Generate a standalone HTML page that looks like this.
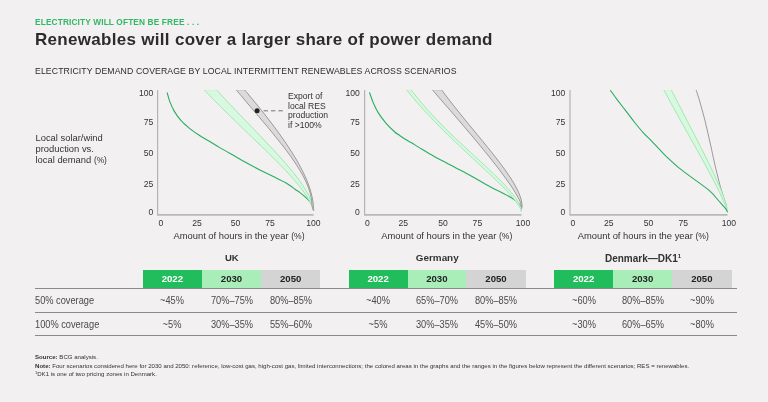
<!DOCTYPE html>
<html><head><meta charset="utf-8">
<style>
html,body{margin:0;padding:0;}
body{width:768px;height:402px;background:#f2f0f0;position:relative;overflow:hidden;font-family:"Liberation Sans",sans-serif;color:#333;}
#w{position:absolute;left:0;top:0;width:768px;height:402px;will-change:transform;}
.t{position:absolute;white-space:nowrap;line-height:1;}
.c{transform:translateX(-50%);}
.r{transform:translateX(-100%);}
#kicker{left:35px;top:17px;font-size:9.2px;font-weight:bold;color:#2fb866;letter-spacing:0.25px;}
#title{left:35px;top:30px;font-size:19.5px;font-weight:bold;color:#2c2c2c;letter-spacing:-0.1px;}
#sub{left:35px;top:66px;font-size:9.3px;color:#2c2c2c;}
.ax{font-size:9px;color:#333;}
.axt{font-size:9.2px;color:#333;}
.hd{position:absolute;top:269.5px;height:19px;}
.hdt{font-size:9.6px;font-weight:bold;}
.grp{font-size:10px;font-weight:bold;color:#333;}
.cell{font-size:9.6px;color:#4a4a4a;}
.ln{position:absolute;left:35px;width:702px;height:1px;background:#8a8a8a;}
.ft{font-size:5.6px;color:#333;}
</style></head><body><div id="w">
<svg style="position:absolute;left:0;top:0" width="768" height="402" viewBox="0 0 768 402">
<defs><clipPath id="cp"><rect x="0" y="90" width="768" height="123.9"/></clipPath></defs>
<g clip-path="url(#cp)" fill="none" stroke-linejoin="round" stroke-linecap="round">
<path d="M167.2,92.8 C167.6,94.3 168.6,98.5 169.8,101.6 C171.0,104.6 172.3,107.9 174.2,111.1 C176.1,114.3 178.5,117.8 181.1,120.7 C183.7,123.6 186.7,126.1 189.8,128.6 C193.0,131.1 196.8,133.7 200.0,135.8 C203.2,137.9 205.8,139.1 209.0,141.0 C212.2,142.9 215.7,145.2 219.4,147.4 C223.1,149.6 226.7,151.6 231.0,154.0 C235.3,156.4 240.2,159.4 245.0,162.1 C249.8,164.8 254.9,167.4 259.9,169.9 C264.9,172.4 270.7,175.2 274.9,177.3 C279.1,179.4 282.8,181.1 285.3,182.5 C287.8,183.9 288.4,184.4 290.0,185.5 C291.6,186.6 293.3,188.1 295.0,189.3 C296.7,190.5 298.4,191.4 300.0,192.6 C301.6,193.8 303.2,195.1 304.9,196.6 C306.5,198.1 308.7,200.2 309.9,201.6 C311.1,203.0 311.8,204.6 312.2,205.2" stroke="#27ae60" stroke-width="1.1"/>
<path d="M204.4,90.0 C205.0,90.7 206.9,92.7 208.2,94.0 C209.5,95.3 210.8,96.7 212.0,98.0 C213.3,99.3 214.7,100.7 216.0,102.0 C217.3,103.3 218.6,104.7 219.9,106.0 C221.3,107.3 222.6,108.7 224.0,110.0 C225.3,111.3 226.6,112.7 228.0,114.0 C229.4,115.3 230.7,116.7 232.1,118.0 C233.5,119.3 234.8,120.7 236.2,122.0 C237.6,123.3 239.0,124.7 240.4,126.0 C241.7,127.3 243.1,128.7 244.5,130.0 C245.9,131.3 247.3,132.7 248.7,134.0 C250.1,135.3 251.5,136.7 252.8,138.0 C254.2,139.3 255.6,140.7 257.0,142.0 C258.4,143.3 259.8,144.7 261.2,146.0 C262.5,147.3 263.9,148.7 265.3,150.0 C266.7,151.3 268.0,152.7 269.4,154.0 C270.7,155.3 272.1,156.7 273.4,158.0 C274.8,159.3 276.1,160.7 277.4,162.0 C278.7,163.3 280.1,164.7 281.3,166.0 C282.6,167.3 283.9,168.7 285.2,170.0 C286.4,171.3 287.7,172.7 288.9,174.0 C290.1,175.3 291.3,176.7 292.5,178.0 C293.7,179.3 294.9,180.7 296.0,182.0 C297.1,183.3 298.2,184.7 299.3,186.0 C300.4,187.3 301.4,188.7 302.4,190.0 C303.4,191.3 304.3,192.7 305.3,194.0 C306.2,195.3 307.0,196.7 307.8,198.0 C308.6,199.3 309.4,200.7 310.1,202.0 C310.8,203.3 311.4,204.7 312.0,206.0 C312.6,207.3 313.5,209.3 313.7,210.0 C314.0,210.7 313.5,210.1 313.5,210.1 L313.5,210.1 C313.5,210.1 313.8,210.7 313.7,210.0 C313.5,209.3 313.0,207.3 312.6,206.0 C312.3,204.7 311.9,203.3 311.5,202.0 C311.0,200.7 310.5,199.3 309.9,198.0 C309.3,196.7 308.6,195.3 307.9,194.0 C307.2,192.7 306.5,191.3 305.7,190.0 C304.9,188.7 304.0,187.3 303.2,186.0 C302.3,184.7 301.4,183.3 300.4,182.0 C299.5,180.7 298.5,179.3 297.5,178.0 C296.5,176.7 295.5,175.3 294.4,174.0 C293.4,172.7 292.3,171.3 291.2,170.0 C290.1,168.7 289.0,167.3 287.9,166.0 C286.7,164.7 285.6,163.3 284.4,162.0 C283.2,160.7 282.1,159.3 280.9,158.0 C279.7,156.7 278.5,155.3 277.2,154.0 C276.0,152.7 274.8,151.3 273.6,150.0 C272.3,148.7 271.1,147.3 269.8,146.0 C268.6,144.7 267.3,143.3 266.0,142.0 C264.8,140.7 263.5,139.3 262.2,138.0 C261.0,136.7 259.7,135.3 258.4,134.0 C257.1,132.7 255.8,131.3 254.5,130.0 C253.3,128.7 252.0,127.3 250.7,126.0 C249.4,124.7 248.1,123.3 246.8,122.0 C245.5,120.7 244.3,119.3 243.0,118.0 C241.7,116.7 240.4,115.3 239.1,114.0 C237.9,112.7 236.6,111.3 235.3,110.0 C234.0,108.7 232.8,107.3 231.5,106.0 C230.3,104.7 229.0,103.3 227.7,102.0 C226.5,100.7 225.2,99.3 224.0,98.0 C222.8,96.7 221.5,95.3 220.3,94.0 C219.1,92.7 217.3,90.7 216.7,90.0 Z" fill="#d8f9df" stroke="#9fe8b1" stroke-width="1"/>
<path d="M236.4,90.0 C236.9,90.7 238.6,92.7 239.7,94.0 C240.8,95.3 241.9,96.7 243.1,98.0 C244.2,99.3 245.3,100.7 246.4,102.0 C247.6,103.3 248.7,104.7 249.8,106.0 C251.0,107.3 252.1,108.7 253.2,110.0 C254.4,111.3 255.5,112.7 256.6,114.0 C257.8,115.3 258.9,116.7 260.0,118.0 C261.2,119.3 262.3,120.7 263.4,122.0 C264.5,123.3 265.6,124.7 266.8,126.0 C267.9,127.3 269.0,128.7 270.1,130.0 C271.2,131.3 272.3,132.7 273.4,134.0 C274.5,135.3 275.6,136.7 276.6,138.0 C277.7,139.3 278.8,140.7 279.8,142.0 C280.9,143.3 281.9,144.7 283.0,146.0 C284.0,147.3 285.0,148.7 286.0,150.0 C287.0,151.3 288.0,152.7 289.0,154.0 C290.0,155.3 290.9,156.7 291.9,158.0 C292.8,159.3 293.7,160.7 294.6,162.0 C295.5,163.3 296.4,164.7 297.2,166.0 C298.1,167.3 298.9,168.7 299.7,170.0 C300.5,171.3 301.3,172.7 302.0,174.0 C302.8,175.3 303.5,176.7 304.2,178.0 C304.8,179.3 305.5,180.7 306.1,182.0 C306.7,183.3 307.3,184.7 307.8,186.0 C308.3,187.3 308.8,188.7 309.2,190.0 C309.7,191.3 310.1,192.7 310.4,194.0 C310.7,195.3 311.0,196.7 311.2,198.0 C311.5,199.3 311.6,200.7 311.8,202.0 C311.9,203.3 311.8,204.7 312.1,206.0 C312.3,207.3 312.8,209.3 313.0,210.0 C313.2,210.7 313.3,210.2 313.3,210.3 L313.8,210.3 C313.8,210.2 313.8,210.7 313.7,210.0 C313.7,209.3 313.5,207.3 313.4,206.0 C313.2,204.7 313.1,203.3 313.0,202.0 C312.8,200.7 312.6,199.3 312.3,198.0 C312.0,196.7 311.7,195.3 311.4,194.0 C311.1,192.7 310.7,191.3 310.3,190.0 C309.9,188.7 309.4,187.3 309.0,186.0 C308.5,184.7 308.0,183.3 307.5,182.0 C306.9,180.7 306.4,179.3 305.8,178.0 C305.2,176.7 304.6,175.3 304.0,174.0 C303.3,172.7 302.7,171.3 302.0,170.0 C301.3,168.7 300.6,167.3 299.9,166.0 C299.2,164.7 298.4,163.3 297.7,162.0 C296.9,160.7 296.1,159.3 295.4,158.0 C294.6,156.7 293.8,155.3 292.9,154.0 C292.1,152.7 291.3,151.3 290.4,150.0 C289.6,148.7 288.7,147.3 287.8,146.0 C286.9,144.7 286.0,143.3 285.1,142.0 C284.2,140.7 283.3,139.3 282.3,138.0 C281.4,136.7 280.5,135.3 279.5,134.0 C278.5,132.7 277.6,131.3 276.6,130.0 C275.6,128.7 274.6,127.3 273.6,126.0 C272.6,124.7 271.6,123.3 270.6,122.0 C269.6,120.7 268.6,119.3 267.5,118.0 C266.5,116.7 265.4,115.3 264.4,114.0 C263.3,112.7 262.3,111.3 261.2,110.0 C260.1,108.7 259.1,107.3 258.0,106.0 C256.9,104.7 255.8,103.3 254.7,102.0 C253.6,100.7 252.5,99.3 251.4,98.0 C250.3,96.7 249.2,95.3 248.1,94.0 C247.0,92.7 245.3,90.7 244.7,90.0 Z" fill="#dbdbdb" stroke="#9a9a9a" stroke-width="1"/>
<path d="M369.6,92.8 C370.2,94.4 371.7,99.1 373.1,102.4 C374.6,105.8 376.1,109.4 378.3,112.9 C380.5,116.4 383.4,120.1 386.1,123.3 C388.9,126.5 392.5,129.9 394.8,132.0 C397.1,134.1 398.0,134.3 400.0,135.7 C402.0,137.1 404.5,138.8 407.0,140.3 C409.5,141.8 412.4,143.4 414.9,144.9 C417.4,146.4 419.5,147.8 422.0,149.3 C424.5,150.8 427.4,152.5 429.9,153.9 C432.4,155.3 434.5,156.6 437.0,158.0 C439.5,159.4 442.3,160.8 444.8,162.1 C447.3,163.4 449.5,164.5 452.0,165.8 C454.5,167.1 457.5,168.7 460.0,170.0 C462.5,171.3 464.1,172.1 467.0,173.7 C469.9,175.3 474.2,177.8 477.4,179.6 C480.6,181.4 483.1,182.8 486.0,184.4 C488.9,186.0 492.1,187.8 494.8,189.2 C497.5,190.6 499.7,191.6 502.0,192.8 C504.3,194.0 506.5,194.9 508.8,196.2 C511.1,197.5 513.8,199.1 515.7,200.5 C517.6,201.9 519.2,203.9 520.1,204.9 C521.0,205.9 520.8,206.2 520.9,206.5" stroke="#27ae60" stroke-width="1.1"/>
<path d="M432.5,90.0 C433.0,90.7 434.8,92.7 436.0,94.0 C437.1,95.3 438.3,96.7 439.4,98.0 C440.6,99.3 441.8,100.7 442.9,102.0 C444.1,103.3 445.2,104.7 446.4,106.0 C447.6,107.3 448.7,108.7 449.9,110.0 C451.0,111.3 452.2,112.7 453.3,114.0 C454.5,115.3 455.6,116.7 456.8,118.0 C457.9,119.3 459.1,120.7 460.2,122.0 C461.3,123.3 462.5,124.7 463.6,126.0 C464.8,127.3 465.9,128.7 467.0,130.0 C468.2,131.3 469.3,132.7 470.4,134.0 C471.5,135.3 472.7,136.7 473.8,138.0 C474.9,139.3 476.0,140.7 477.1,142.0 C478.2,143.3 479.3,144.7 480.4,146.0 C481.5,147.3 482.6,148.7 483.7,150.0 C484.8,151.3 485.9,152.7 487.0,154.0 C488.0,155.3 489.1,156.7 490.2,158.0 C491.2,159.3 492.3,160.7 493.3,162.0 C494.4,163.3 495.4,164.7 496.5,166.0 C497.5,167.3 498.5,168.7 499.5,170.0 C500.5,171.3 501.5,172.7 502.5,174.0 C503.5,175.3 504.5,176.7 505.5,178.0 C506.4,179.3 507.4,180.7 508.3,182.0 C509.3,183.3 510.2,184.7 511.1,186.0 C512.0,187.3 512.8,188.7 513.7,190.0 C514.5,191.3 515.4,192.7 516.1,194.0 C516.9,195.3 517.7,196.7 518.4,198.0 C519.1,199.3 519.8,200.7 520.3,202.0 C520.8,203.3 521.4,204.8 521.6,206.0 C521.8,207.2 521.4,208.7 521.3,209.2 L521.5,209.2 C521.6,208.7 522.0,207.2 522.0,206.0 C522.0,204.8 521.9,203.3 521.7,202.0 C521.5,200.7 521.1,199.3 520.7,198.0 C520.3,196.7 519.8,195.3 519.3,194.0 C518.7,192.7 518.1,191.3 517.5,190.0 C516.8,188.7 516.1,187.3 515.4,186.0 C514.7,184.7 513.9,183.3 513.1,182.0 C512.3,180.7 511.5,179.3 510.6,178.0 C509.7,176.7 508.8,175.3 507.9,174.0 C507.0,172.7 506.1,171.3 505.1,170.0 C504.2,168.7 503.2,167.3 502.2,166.0 C501.2,164.7 500.2,163.3 499.2,162.0 C498.2,160.7 497.2,159.3 496.1,158.0 C495.1,156.7 494.0,155.3 493.0,154.0 C491.9,152.7 490.8,151.3 489.8,150.0 C488.7,148.7 487.6,147.3 486.5,146.0 C485.4,144.7 484.4,143.3 483.3,142.0 C482.2,140.7 481.1,139.3 480.0,138.0 C478.9,136.7 477.8,135.3 476.7,134.0 C475.6,132.7 474.5,131.3 473.4,130.0 C472.3,128.7 471.2,127.3 470.1,126.0 C469.0,124.7 467.9,123.3 466.8,122.0 C465.7,120.7 464.6,119.3 463.6,118.0 C462.5,116.7 461.4,115.3 460.3,114.0 C459.2,112.7 458.2,111.3 457.1,110.0 C456.1,108.7 455.0,107.3 453.9,106.0 C452.9,104.7 451.9,103.3 450.8,102.0 C449.8,100.7 448.8,99.3 447.7,98.0 C446.7,96.7 445.7,95.3 444.7,94.0 C443.7,92.7 442.2,90.7 441.7,90.0 Z" fill="#dbdbdb" stroke="#9a9a9a" stroke-width="1"/>
<path d="M406.8,90.0 C407.4,90.7 408.9,92.7 410.0,94.0 C411.1,95.3 412.2,96.7 413.3,98.0 C414.4,99.3 415.6,100.7 416.7,102.0 C417.9,103.3 419.0,104.7 420.2,106.0 C421.4,107.3 422.6,108.7 423.8,110.0 C425.0,111.3 426.2,112.7 427.5,114.0 C428.7,115.3 430.0,116.7 431.3,118.0 C432.5,119.3 433.8,120.7 435.1,122.0 C436.4,123.3 437.7,124.7 439.0,126.0 C440.3,127.3 441.7,128.7 443.0,130.0 C444.4,131.3 445.7,132.7 447.1,134.0 C448.4,135.3 449.8,136.7 451.2,138.0 C452.6,139.3 454.0,140.7 455.4,142.0 C456.8,143.3 458.2,144.7 459.6,146.0 C461.0,147.3 462.4,148.7 463.8,150.0 C465.3,151.3 466.7,152.7 468.1,154.0 C469.6,155.3 471.0,156.7 472.4,158.0 C473.9,159.3 475.3,160.7 476.7,162.0 C478.2,163.3 479.6,164.7 481.0,166.0 C482.5,167.3 483.9,168.7 485.3,170.0 C486.8,171.3 488.2,172.7 489.6,174.0 C491.0,175.3 492.4,176.7 493.8,178.0 C495.2,179.3 496.6,180.7 497.9,182.0 C499.3,183.3 500.7,184.7 502.0,186.0 C503.3,187.3 504.6,188.7 505.9,190.0 C507.2,191.3 508.4,192.7 509.6,194.0 C510.8,195.3 512.0,196.7 513.1,198.0 C514.3,199.3 515.4,200.7 516.3,202.0 C517.3,203.3 518.3,204.7 519.1,206.0 C519.9,207.3 520.7,209.0 521.1,210.0 C521.5,211.0 521.3,211.5 521.3,211.8 L521.3,211.8 C521.3,211.5 521.5,211.0 521.3,210.0 C521.2,209.0 520.7,207.3 520.2,206.0 C519.6,204.7 518.9,203.3 518.1,202.0 C517.4,200.7 516.5,199.3 515.5,198.0 C514.6,196.7 513.6,195.3 512.5,194.0 C511.5,192.7 510.3,191.3 509.2,190.0 C508.0,188.7 506.8,187.3 505.6,186.0 C504.3,184.7 503.1,183.3 501.8,182.0 C500.5,180.7 499.1,179.3 497.8,178.0 C496.4,176.7 495.1,175.3 493.7,174.0 C492.3,172.7 490.9,171.3 489.5,170.0 C488.1,168.7 486.7,167.3 485.3,166.0 C483.8,164.7 482.4,163.3 481.0,162.0 C479.5,160.7 478.1,159.3 476.7,158.0 C475.2,156.7 473.8,155.3 472.3,154.0 C470.9,152.7 469.4,151.3 468.0,150.0 C466.6,148.7 465.1,147.3 463.7,146.0 C462.3,144.7 460.9,143.3 459.4,142.0 C458.0,140.7 456.6,139.3 455.2,138.0 C453.8,136.7 452.4,135.3 451.0,134.0 C449.7,132.7 448.3,131.3 446.9,130.0 C445.6,128.7 444.2,127.3 442.9,126.0 C441.6,124.7 440.3,123.3 439.0,122.0 C437.7,120.7 436.4,119.3 435.1,118.0 C433.9,116.7 432.6,115.3 431.4,114.0 C430.1,112.7 428.9,111.3 427.7,110.0 C426.5,108.7 425.4,107.3 424.2,106.0 C423.0,104.7 421.9,103.3 420.8,102.0 C419.7,100.7 418.6,99.3 417.5,98.0 C416.4,96.7 415.4,95.3 414.3,94.0 C413.3,92.7 411.8,90.7 411.3,90.0 Z" fill="#d8f9df" stroke="#9fe8b1" stroke-width="1"/>
<path d="M696.1,89.9 C696.3,90.6 697.0,92.6 697.4,93.9 C697.8,95.2 698.3,96.6 698.7,97.9 C699.1,99.2 699.5,100.6 699.9,101.9 C700.3,103.2 700.7,104.6 701.0,105.9 C701.4,107.2 701.8,108.6 702.1,109.9 C702.5,111.2 702.9,112.6 703.2,113.9 C703.6,115.2 703.9,116.6 704.3,117.9 C704.6,119.2 704.9,120.6 705.3,121.9 C705.6,123.2 705.9,124.6 706.2,125.9 C706.6,127.2 706.9,128.6 707.2,129.9 C707.5,131.2 707.8,132.6 708.1,133.9 C708.4,135.2 708.7,136.6 709.0,137.9 C709.3,139.2 709.6,140.6 709.9,141.9 C710.2,143.2 710.5,144.6 710.8,145.9 C711.1,147.2 711.4,148.6 711.7,149.9 C712.0,151.2 712.2,152.6 712.5,153.9 C712.8,155.2 713.1,156.6 713.4,157.9 C713.7,159.2 714.0,160.6 714.3,161.9 C714.6,163.2 714.9,164.6 715.2,165.9 C715.5,167.2 715.8,168.6 716.1,169.9 C716.5,171.2 716.8,172.6 717.1,173.9 C717.4,175.2 717.8,176.6 718.1,177.9 C718.4,179.2 718.8,180.6 719.1,181.9 C719.5,183.2 719.9,184.6 720.2,185.9 C720.6,187.2 721.0,188.6 721.4,189.9 C721.8,191.2 722.2,192.6 722.6,193.9 C723.0,195.2 723.5,196.6 723.9,197.9 C724.3,199.2 724.8,200.6 725.2,201.9 C725.6,203.2 726.2,204.7 726.3,205.9 C726.5,207.1 726.2,208.6 726.2,209.2" stroke="#999" stroke-width="1.0"/>
<path d="M663.8,89.9 C664.2,90.6 665.2,92.6 666.0,93.9 C666.7,95.2 667.4,96.6 668.1,97.9 C668.8,99.2 669.6,100.6 670.3,101.9 C671.0,103.2 671.7,104.6 672.5,105.9 C673.2,107.2 673.9,108.6 674.7,109.9 C675.4,111.2 676.2,112.6 676.9,113.9 C677.6,115.2 678.4,116.6 679.1,117.9 C679.9,119.2 680.6,120.6 681.3,121.9 C682.1,123.2 682.8,124.6 683.6,125.9 C684.3,127.2 685.1,128.6 685.8,129.9 C686.6,131.2 687.3,132.6 688.1,133.9 C688.8,135.2 689.6,136.6 690.3,137.9 C691.0,139.2 691.8,140.6 692.5,141.9 C693.3,143.2 694.0,144.6 694.8,145.9 C695.5,147.2 696.3,148.6 697.0,149.9 C697.8,151.2 698.5,152.6 699.2,153.9 C700.0,155.2 700.7,156.6 701.5,157.9 C702.2,159.2 702.9,160.6 703.7,161.9 C704.4,163.2 705.1,164.6 705.9,165.9 C706.6,167.2 707.3,168.6 708.0,169.9 C708.7,171.2 709.5,172.6 710.2,173.9 C710.9,175.2 711.6,176.6 712.3,177.9 C713.0,179.2 713.7,180.6 714.4,181.9 C715.1,183.2 715.7,184.6 716.4,185.9 C717.1,187.2 717.7,188.6 718.4,189.9 C719.0,191.2 719.7,192.6 720.3,193.9 C721.0,195.2 721.6,196.6 722.2,197.9 C722.8,199.2 723.4,200.6 723.9,201.9 C724.5,203.2 725.0,204.6 725.6,205.9 C726.1,207.2 726.8,209.2 727.0,209.9 C727.3,210.6 727.1,210.1 727.1,210.1 L727.1,210.1 C727.1,210.1 727.2,210.6 727.1,209.9 C727.0,209.2 726.8,207.2 726.5,205.9 C726.2,204.6 725.8,203.2 725.4,201.9 C725.0,200.6 724.5,199.2 724.0,197.9 C723.6,196.6 723.1,195.2 722.6,193.9 C722.0,192.6 721.5,191.2 721.0,189.9 C720.4,188.6 719.9,187.2 719.3,185.9 C718.7,184.6 718.1,183.2 717.5,181.9 C717.0,180.6 716.4,179.2 715.7,177.9 C715.1,176.6 714.5,175.2 713.9,173.9 C713.3,172.6 712.6,171.2 712.0,169.9 C711.4,168.6 710.7,167.2 710.1,165.9 C709.4,164.6 708.8,163.2 708.1,161.9 C707.5,160.6 706.8,159.2 706.2,157.9 C705.5,156.6 704.8,155.2 704.2,153.9 C703.5,152.6 702.8,151.2 702.1,149.9 C701.5,148.6 700.8,147.2 700.1,145.9 C699.4,144.6 698.8,143.2 698.1,141.9 C697.4,140.6 696.7,139.2 696.0,137.9 C695.3,136.6 694.6,135.2 694.0,133.9 C693.3,132.6 692.6,131.2 691.9,129.9 C691.2,128.6 690.5,127.2 689.8,125.9 C689.1,124.6 688.5,123.2 687.8,121.9 C687.1,120.6 686.4,119.2 685.7,117.9 C685.0,116.6 684.3,115.2 683.6,113.9 C682.9,112.6 682.3,111.2 681.6,109.9 C680.9,108.6 680.2,107.2 679.5,105.9 C678.8,104.6 678.1,103.2 677.5,101.9 C676.8,100.6 676.1,99.2 675.4,97.9 C674.7,96.6 674.0,95.2 673.4,93.9 C672.7,92.6 671.7,90.6 671.3,89.9 Z" fill="#d8f9df" stroke="#9fe8b1" stroke-width="1"/>
<path d="M610.6,90.6 C611.7,92.1 614.7,96.4 617.3,99.8 C619.9,103.2 623.1,107.3 626.0,111.1 C628.9,114.9 631.8,118.9 634.7,122.5 C637.6,126.1 640.5,129.7 643.4,132.9 C646.3,136.1 649.5,138.9 652.1,141.6 C654.7,144.3 656.9,146.8 659.2,149.2 C661.5,151.6 662.9,153.3 666.1,156.3 C669.3,159.3 673.9,163.8 678.3,167.4 C682.7,171.0 687.1,174.0 692.3,177.9 C697.5,181.8 705.4,187.1 709.7,190.9 C714.1,194.7 715.8,197.6 718.4,200.5 C721.0,203.4 723.9,206.5 725.4,208.4 C726.9,210.3 727.1,211.2 727.5,211.8" stroke="#27ae60" stroke-width="1.1"/>
</g>
<g stroke="#b4b4b4" stroke-width="1.2" fill="none">
<path d="M157.6,90 V215"/><path d="M364.6,90 V215"/><path d="M570,90 V215"/>
</g>
<g stroke="#b9b9b9" stroke-width="1.7" fill="none">
<path d="M157,214.8 H313.6"/><path d="M364,214.8 H521.5"/><path d="M569.4,214.8 H727.6"/>
</g>
<circle cx="257.1" cy="110.8" r="2.5" fill="#222"/>
<path d="M263.6,110.8 H282.8" stroke="#666" stroke-width="0.9" stroke-dasharray="4.4 3"/>
</svg>
<div class="t" style="left:35.5px;top:131.9px;font-size:9.4px;line-height:11.1px;color:#333;white-space:pre">Local solar/wind
production vs.
local demand <span style="font-size:8.4px">(%)</span></div>
<div class="t" style="left:287.7px;top:92.2px;font-size:9px;line-height:9.6px;color:#333;white-space:pre;transform-origin:0 50%;transform:scaleX(0.955)">Export of
local RES
production
if &gt;100%</div>
<div class="t " style="left:153.3px;top:88.82px;font-size:8.6px;transform-origin:100% 50%;transform:translateX(-100%);">100</div>
<div class="t " style="left:153.3px;top:117.82px;font-size:8.6px;transform-origin:100% 50%;transform:translateX(-100%);">75</div>
<div class="t " style="left:153.3px;top:148.92px;font-size:8.6px;transform-origin:100% 50%;transform:translateX(-100%);">50</div>
<div class="t " style="left:153.3px;top:180.12px;font-size:8.6px;transform-origin:100% 50%;transform:translateX(-100%);">25</div>
<div class="t " style="left:153.3px;top:208.22px;font-size:8.6px;transform-origin:100% 50%;transform:translateX(-100%);">0</div>
<div class="t " style="left:359.8px;top:88.82px;font-size:8.6px;transform-origin:100% 50%;transform:translateX(-100%);">100</div>
<div class="t " style="left:359.8px;top:117.82px;font-size:8.6px;transform-origin:100% 50%;transform:translateX(-100%);">75</div>
<div class="t " style="left:359.8px;top:148.92px;font-size:8.6px;transform-origin:100% 50%;transform:translateX(-100%);">50</div>
<div class="t " style="left:359.8px;top:180.12px;font-size:8.6px;transform-origin:100% 50%;transform:translateX(-100%);">25</div>
<div class="t " style="left:359.8px;top:208.22px;font-size:8.6px;transform-origin:100% 50%;transform:translateX(-100%);">0</div>
<div class="t " style="left:565.3px;top:88.82px;font-size:8.6px;transform-origin:100% 50%;transform:translateX(-100%);">100</div>
<div class="t " style="left:565.3px;top:117.82px;font-size:8.6px;transform-origin:100% 50%;transform:translateX(-100%);">75</div>
<div class="t " style="left:565.3px;top:148.92px;font-size:8.6px;transform-origin:100% 50%;transform:translateX(-100%);">50</div>
<div class="t " style="left:565.3px;top:180.12px;font-size:8.6px;transform-origin:100% 50%;transform:translateX(-100%);">25</div>
<div class="t " style="left:565.3px;top:208.22px;font-size:8.6px;transform-origin:100% 50%;transform:translateX(-100%);">0</div>
<div class="t " style="left:161px;top:219.12px;font-size:8.6px;transform-origin:50% 50%;transform:translateX(-50%);">0</div>
<div class="t " style="left:197px;top:219.12px;font-size:8.6px;transform-origin:50% 50%;transform:translateX(-50%);">25</div>
<div class="t " style="left:235.5px;top:219.12px;font-size:8.6px;transform-origin:50% 50%;transform:translateX(-50%);">50</div>
<div class="t " style="left:270px;top:219.12px;font-size:8.6px;transform-origin:50% 50%;transform:translateX(-50%);">75</div>
<div class="t " style="left:313.3px;top:219.12px;font-size:8.6px;transform-origin:50% 50%;transform:translateX(-50%);">100</div>
<div class="t " style="left:367.5px;top:219.12px;font-size:8.6px;transform-origin:50% 50%;transform:translateX(-50%);">0</div>
<div class="t " style="left:403.2px;top:219.12px;font-size:8.6px;transform-origin:50% 50%;transform:translateX(-50%);">25</div>
<div class="t " style="left:443px;top:219.12px;font-size:8.6px;transform-origin:50% 50%;transform:translateX(-50%);">50</div>
<div class="t " style="left:477.4px;top:219.12px;font-size:8.6px;transform-origin:50% 50%;transform:translateX(-50%);">75</div>
<div class="t " style="left:523px;top:219.12px;font-size:8.6px;transform-origin:50% 50%;transform:translateX(-50%);">100</div>
<div class="t " style="left:572.8px;top:219.12px;font-size:8.6px;transform-origin:50% 50%;transform:translateX(-50%);">0</div>
<div class="t " style="left:608.8px;top:219.12px;font-size:8.6px;transform-origin:50% 50%;transform:translateX(-50%);">25</div>
<div class="t " style="left:648.6px;top:219.12px;font-size:8.6px;transform-origin:50% 50%;transform:translateX(-50%);">50</div>
<div class="t " style="left:683.2px;top:219.12px;font-size:8.6px;transform-origin:50% 50%;transform:translateX(-50%);">75</div>
<div class="t " style="left:728.8px;top:219.12px;font-size:8.6px;transform-origin:50% 50%;transform:translateX(-50%);">100</div>
<div class="t " style="left:239px;top:231.34px;font-size:9.4px;transform-origin:50% 50%;transform:translateX(-50%);">Amount of hours in the year <span style="font-size:8.6px">(%)</span></div>
<div class="t " style="left:446.8px;top:231.34px;font-size:9.4px;transform-origin:50% 50%;transform:translateX(-50%);">Amount of hours in the year <span style="font-size:8.6px">(%)</span></div>
<div class="t " style="left:643.3px;top:231.34px;font-size:9.4px;transform-origin:50% 50%;transform:translateX(-50%);">Amount of hours in the year <span style="font-size:8.6px">(%)</span></div>
<div class="hd" style="left:143px;width:58.75px;background:#21bd5d"></div>
<div class="t " style="left:172.375px;top:274.37px;font-size:9.6px;transform-origin:50% 50%;transform:translateX(-50%);color:#fff;font-weight:bold">2022</div>
<div class="t " style="left:172.375px;top:296.14px;font-size:10.0px;transform-origin:50% 50%;transform:translateX(-50%) scaleX(0.925);color:#4a4a4a">~45%</div>
<div class="t " style="left:172.375px;top:320.24px;font-size:10.0px;transform-origin:50% 50%;transform:translateX(-50%) scaleX(0.925);color:#4a4a4a">~5%</div>
<div class="hd" style="left:201.75px;width:59.55000000000001px;background:#a9edb9"></div>
<div class="t " style="left:231.525px;top:274.37px;font-size:9.6px;transform-origin:50% 50%;transform:translateX(-50%);color:#222;font-weight:bold">2030</div>
<div class="t " style="left:231.525px;top:296.14px;font-size:10.0px;transform-origin:50% 50%;transform:translateX(-50%) scaleX(0.925);color:#4a4a4a">70%–75%</div>
<div class="t " style="left:231.525px;top:320.24px;font-size:10.0px;transform-origin:50% 50%;transform:translateX(-50%) scaleX(0.925);color:#4a4a4a">30%–35%</div>
<div class="hd" style="left:261.3px;width:58.69999999999999px;background:#d4d4d4"></div>
<div class="t " style="left:290.65px;top:274.37px;font-size:9.6px;transform-origin:50% 50%;transform:translateX(-50%);color:#222;font-weight:bold">2050</div>
<div class="t " style="left:290.65px;top:296.14px;font-size:10.0px;transform-origin:50% 50%;transform:translateX(-50%) scaleX(0.925);color:#4a4a4a">80%–85%</div>
<div class="t " style="left:290.65px;top:320.24px;font-size:10.0px;transform-origin:50% 50%;transform:translateX(-50%) scaleX(0.925);color:#4a4a4a">55%–60%</div>
<div class="hd" style="left:348.75px;width:58.75px;background:#21bd5d"></div>
<div class="t " style="left:378.125px;top:274.37px;font-size:9.6px;transform-origin:50% 50%;transform:translateX(-50%);color:#fff;font-weight:bold">2022</div>
<div class="t " style="left:378.125px;top:296.14px;font-size:10.0px;transform-origin:50% 50%;transform:translateX(-50%) scaleX(0.925);color:#4a4a4a">~40%</div>
<div class="t " style="left:378.125px;top:320.24px;font-size:10.0px;transform-origin:50% 50%;transform:translateX(-50%) scaleX(0.925);color:#4a4a4a">~5%</div>
<div class="hd" style="left:407.5px;width:58.75px;background:#a9edb9"></div>
<div class="t " style="left:436.875px;top:274.37px;font-size:9.6px;transform-origin:50% 50%;transform:translateX(-50%);color:#222;font-weight:bold">2030</div>
<div class="t " style="left:436.875px;top:296.14px;font-size:10.0px;transform-origin:50% 50%;transform:translateX(-50%) scaleX(0.925);color:#4a4a4a">65%–70%</div>
<div class="t " style="left:436.875px;top:320.24px;font-size:10.0px;transform-origin:50% 50%;transform:translateX(-50%) scaleX(0.925);color:#4a4a4a">30%–35%</div>
<div class="hd" style="left:466.25px;width:59.5px;background:#d4d4d4"></div>
<div class="t " style="left:496.0px;top:274.37px;font-size:9.6px;transform-origin:50% 50%;transform:translateX(-50%);color:#222;font-weight:bold">2050</div>
<div class="t " style="left:496.0px;top:296.14px;font-size:10.0px;transform-origin:50% 50%;transform:translateX(-50%) scaleX(0.925);color:#4a4a4a">80%–85%</div>
<div class="t " style="left:496.0px;top:320.24px;font-size:10.0px;transform-origin:50% 50%;transform:translateX(-50%) scaleX(0.925);color:#4a4a4a">45%–50%</div>
<div class="hd" style="left:554.25px;width:58.75px;background:#21bd5d"></div>
<div class="t " style="left:583.625px;top:274.37px;font-size:9.6px;transform-origin:50% 50%;transform:translateX(-50%);color:#fff;font-weight:bold">2022</div>
<div class="t " style="left:583.625px;top:296.14px;font-size:10.0px;transform-origin:50% 50%;transform:translateX(-50%) scaleX(0.925);color:#4a4a4a">~60%</div>
<div class="t " style="left:583.625px;top:320.24px;font-size:10.0px;transform-origin:50% 50%;transform:translateX(-50%) scaleX(0.925);color:#4a4a4a">~30%</div>
<div class="hd" style="left:613px;width:59.25px;background:#a9edb9"></div>
<div class="t " style="left:642.625px;top:274.37px;font-size:9.6px;transform-origin:50% 50%;transform:translateX(-50%);color:#222;font-weight:bold">2030</div>
<div class="t " style="left:642.625px;top:296.14px;font-size:10.0px;transform-origin:50% 50%;transform:translateX(-50%) scaleX(0.925);color:#4a4a4a">80%–85%</div>
<div class="t " style="left:642.625px;top:320.24px;font-size:10.0px;transform-origin:50% 50%;transform:translateX(-50%) scaleX(0.925);color:#4a4a4a">60%–65%</div>
<div class="hd" style="left:672.25px;width:59.25px;background:#d4d4d4"></div>
<div class="t " style="left:701.875px;top:274.37px;font-size:9.6px;transform-origin:50% 50%;transform:translateX(-50%);color:#222;font-weight:bold">2050</div>
<div class="t " style="left:701.875px;top:296.14px;font-size:10.0px;transform-origin:50% 50%;transform:translateX(-50%) scaleX(0.925);color:#4a4a4a">~90%</div>
<div class="t " style="left:701.875px;top:320.24px;font-size:10.0px;transform-origin:50% 50%;transform:translateX(-50%) scaleX(0.925);color:#4a4a4a">~80%</div>
<div class="t " style="left:231.75px;top:253.26px;font-size:9.5px;transform-origin:50% 50%;transform:translateX(-50%);font-weight:bold">UK</div>
<div class="t " style="left:437.25px;top:252.92px;font-size:9.9px;transform-origin:50% 50%;transform:translateX(-50%);font-weight:bold">Germany</div>
<div class="t " style="left:643px;top:252.84px;font-size:10px;transform-origin:50% 50%;transform:translateX(-50%);font-weight:bold">Denmark—DK1<span style="font-size:6px;vertical-align:3.5px">1</span></div>
<div class="t " style="left:35px;top:296.14px;font-size:10.0px;transform-origin:0 50%;transform:scaleX(0.925);color:#4a4a4a">50% coverage</div>
<div class="t " style="left:35px;top:320.24px;font-size:10.0px;transform-origin:0 50%;transform:scaleX(0.925);color:#4a4a4a">100% coverage</div>
<div class="ln" style="top:288px"></div>
<div class="ln" style="top:311.5px"></div>
<div class="ln" style="top:334.5px"></div>
<div class="t " style="left:35px;top:354.15px;font-size:6.08px;"><b>Source:</b> BCG analysis.</div>
<div class="t " style="left:35px;top:362.65px;font-size:6.08px;"><b>Note:</b> Four scenarios considered here for 2030 and 2050: reference, low-cost gas, high-cost gas, limited interconnections; the colored areas in the graphs and the ranges in the figures below represent the different scenarios; RES = renewables.</div>
<div class="t " style="left:35px;top:370.95px;font-size:6.08px;"><span style="font-size:4px;vertical-align:1.8px">1</span>DK1 is one of two pricing zones in Denmark.</div>
<div class="t " style="left:35px;top:17.97px;font-size:8.3px;font-weight:bold;color:#2fb866;letter-spacing:0.14px">ELECTRICITY WILL OFTEN BE FREE . . .</div>
<div class="t " style="left:35px;top:30.81px;font-size:17px;font-weight:bold;color:#2c2c2c;letter-spacing:0.3px">Renewables will cover a larger share of power demand</div>
<div class="t " style="left:35px;top:66.94px;font-size:8.7px;color:#2c2c2c;letter-spacing:0.11px">ELECTRICITY DEMAND COVERAGE BY LOCAL INTERMITTENT RENEWABLES ACROSS SCENARIOS</div>
</div></body></html>
